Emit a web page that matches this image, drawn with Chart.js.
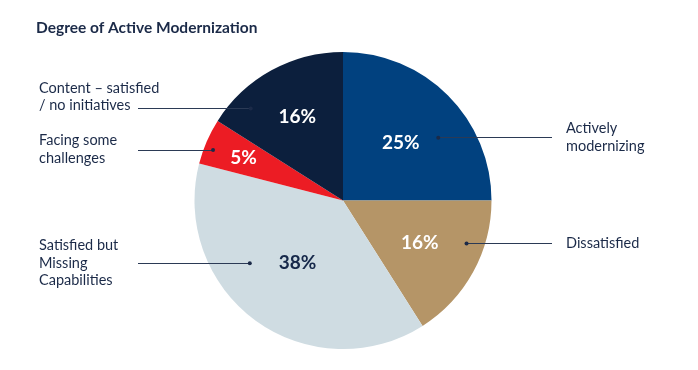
<!DOCTYPE html>
<html>
<head>
<meta charset="utf-8">
<script src="https://cdn.jsdelivr.net/npm/chart.js@4.4.1/dist/chart.umd.min.js"></script>
<style>
  html, body { margin: 0; padding: 0; background: #ffffff; }
  #wrap { width: 698px; height: 370px; position: relative; }
</style>
</head>
<body>
<div id="wrap"><canvas id="modChart"></canvas></div>
<script>
// data
const categories = ["Actively modernizing", "Dissatisfied", "Satisfied but Missing Capabilities", "Facing some challenges", "Content \u2013 satisfied / no initiatives"];
const shares = [25, 16, 38, 5, 16];
const labelLines = [
    ["Actively", "modernizing"],
    ["Dissatisfied"],
    ["Satisfied but", "Missing", "Capabilities"],
    ["Facing some", "challenges"],
    ["Content \u2013 satisfied", "/ no initiatives"]
];
const sliceColors = ["#01417f", "#b59567", "#cfdce2", "#ec1c24", "#0c1f3d"];
const pctColors = ["#ffffff", "#ffffff", "#16284a", "#ffffff", "#ffffff"];

const titleText = "Degree of Active Modernization";
const textColor = "#1b2a48";
const fontFamily = "Lato, 'Open Sans', sans-serif";

// where the % text and leader dot sit inside each slice (t = fraction along the arc, r = fraction of radius)
const pctPos = [{ t: 0.5, r: 0.55 }, { t: 0.5, r: 0.59 }, { t: 0.5, r: 0.52 }, { t: 0.5, r: 0.73 }, { t: 0.5, r: 0.64 }];
const dotPos = [{ t: 0.627, r: 0.77 }, { t: 0.33, r: 0.88 }, { t: 0.648, r: 0.755 }, { t: 0.39, r: 0.94 }, { t: 0.22, r: 0.88 }];
const labelSide = ["right", "right", "left", "left", "left"];
const labelShift = [0, 0.5, 0.5, 0, -11];

const calloutPlugin = {
    id: "callouts",
    afterDatasetsDraw(chart) {
        const ctx = chart.ctx;
        const meta = chart.getDatasetMeta(0);

        ctx.save();
        // title
        ctx.fillStyle = textColor;
        ctx.font = "bold 15.5px " + fontFamily;
        ctx.textAlign = "left";
        ctx.textBaseline = "alphabetic";
        ctx.fillText(titleText, 36, 33);

        meta.data.forEach((arc, i) => {
            const cx = arc.x, cy = arc.y, R = arc.outerRadius;
            const span = arc.endAngle - arc.startAngle;

            // percentage text
            let a = arc.startAngle + span * pctPos[i].t;
            let px = cx + Math.cos(a) * R * pctPos[i].r;
            let py = cy + Math.sin(a) * R * pctPos[i].r;
            ctx.fillStyle = pctColors[i];
            ctx.font = "bold 19px " + fontFamily;
            ctx.textAlign = "center";
            ctx.textBaseline = "middle";
            ctx.fillText(shares[i] + "%", px, py);

            // leader line with dot
            a = arc.startAngle + span * dotPos[i].t;
            const dx = cx + Math.cos(a) * R * dotPos[i].r;
            const dy = cy + Math.sin(a) * R * dotPos[i].r;
            const right = labelSide[i] === "right";
            const endX = right ? cx + 209 : cx - 205;
            ctx.strokeStyle = "#2b3a55";
            ctx.lineWidth = 1;
            ctx.beginPath();
            ctx.moveTo(dx, Math.round(dy) + 0.5);
            ctx.lineTo(endX, Math.round(dy) + 0.5);
            ctx.stroke();
            ctx.fillStyle = "#1b2a48";
            ctx.beginPath();
            ctx.arc(dx, dy + 0.5, 2, 0, Math.PI * 2);
            ctx.fill();

            // category label, block centred on the leader line plus a shift
            const lines = labelLines[i];
            const lh = 17.5;
            const textX = right ? cx + 223 : 39;
            const top = dy + labelShift[i] - (lines.length - 1) * lh / 2;
            ctx.fillStyle = textColor;
            ctx.font = "14.5px " + fontFamily;
            ctx.textAlign = "left";
            ctx.textBaseline = "middle";
            lines.forEach((ln, k) => {
                ctx.fillText(ln, textX, top + k * lh);
            });
        });
        ctx.restore();
    }
};

new Chart(document.getElementById("modChart"), {
    type: "pie",
    data: {
        labels: categories,
        datasets: [{
            data: shares,
            backgroundColor: sliceColors,
            borderWidth: 0
        }]
    },
    options: {
        responsive: true,
        maintainAspectRatio: false,
        animation: false,
        layout: {
            padding: { top: 52, bottom: 21, left: 150, right: 162 }
        },
        plugins: {
            legend: { display: false },
            tooltip: { enabled: false },
            title: { display: false }
        }
    },
    plugins: [calloutPlugin]
});
</script>
</body>
</html>
